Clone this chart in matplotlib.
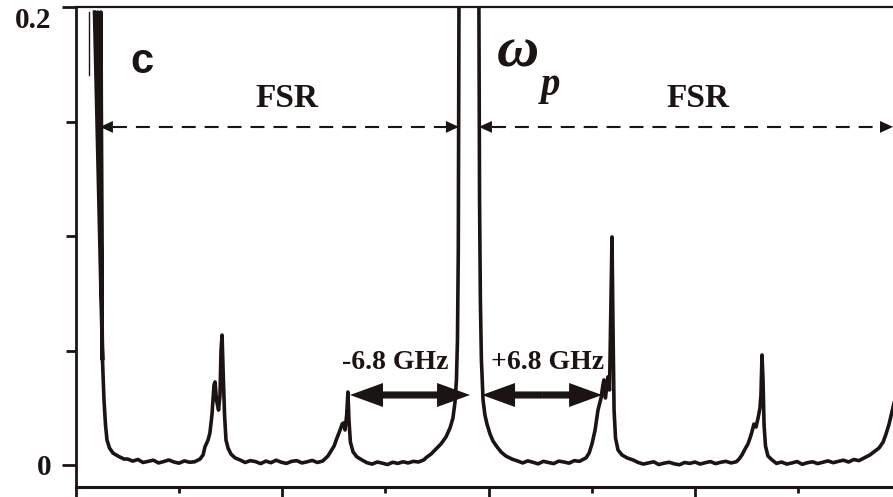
import matplotlib
matplotlib.use('Agg')
from matplotlib import pyplot as plt
from matplotlib.ticker import FixedLocator

# spectrum (x in arbitrary units, 100 per major tick)
freq = [8.97, 12.84, 10.57, 12.60, 12.12, 12.36, 12.84, 13.57, 14.30, 15.03, 16.24,
        17.93, 20.36, 23.27,
        25.0, 27.5, 30.0, 32.5, 35.0, 37.5, 40.0, 42.5, 45.0, 47.5, 50.0, 52.5, 55.0, 57.5,
        60.1, 61.6, 62.5, 64.0, 64.9, 65.9, 66.9, 67.4, 68.1, 69.1, 69.8, 70.3, 70.8, 71.3,
        72.0, 72.7, 73.7, 75.1, 77.1, 79.5,
        82.0, 84.5, 87.0, 89.5, 92.0, 94.5, 97.0, 99.5, 102.0, 104.5, 107.0, 109.5, 112.0,
        114.5, 117.0, 119.5,
        122.1, 123.6, 125.1, 126.5, 128.0, 129.0, 129.7, 130.4, 131.2, 131.8, 132.3, 133.0,
        134.3, 136.2, 138.6,
        141.0, 143.5, 146.0, 148.5, 151.0, 153.5, 156.0, 158.5, 161.0, 163.5, 166.0, 168.5,
        170.1, 172.1, 174.5, 176.9, 179.3, 181.3, 182.7, 183.7, 184.4, 184.9, 185.3, 185.6,
        185.9, 195.1,
        195.3, 195.6, 196.0, 196.5, 197.3, 198.2, 199.2, 200.7, 202.1, 204.1, 206.0, 208.4,
        211.3, 214.2,
        216.5, 219.0, 221.5, 224.0, 226.5, 229.0, 231.5, 234.0, 236.5, 239.0, 241.5, 244.0,
        247.2, 248.7, 250.1, 251.6, 253.0, 254.5, 255.4, 255.9, 256.6, 257.4, 257.8, 258.6,
        259.3, 259.8, 260.3, 260.8, 261.5, 262.7, 264.6, 267.1, 270.0,
        272.5, 275.0, 277.5, 280.0, 282.5, 285.0, 287.5, 290.0, 292.5, 295.0, 297.5, 300.0,
        302.5, 305.0, 307.5, 310.0, 312.5, 315.0, 317.5, 320.0,
        321.4, 322.8, 324.3, 325.7, 327.2, 328.6, 329.6, 330.6, 331.5, 332.0, 332.5, 333.0,
        333.5, 334.2, 335.4, 337.4,
        339.5, 342.0, 344.5, 347.0, 349.5, 352.0, 354.5, 357.0, 359.5, 362.0, 364.5, 367.0,
        369.5, 372.0, 374.5, 377.0, 379.5,
        382.9, 384.8, 387.3, 389.2, 391.2, 392.6, 394.1, 395.5, 397.4]
signal = [0.198, 0.0459, 0.198, 0.0721, 0.198, 0.094, 0.0459, 0.0284, 0.0175, 0.0109,
          0.0074, 0.0052, 0.0039, 0.0026,
          0.0026, 0.0017, 0.0024, 0.0011, 0.0016, 0.0021, 0.0009, 0.0015, 0.0022, 0.0013,
          0.0008, 0.0018, 0.0012, 0.0014,
          0.0026, 0.0044, 0.0079, 0.0109, 0.0140, 0.0219, 0.0350, 0.0363, 0.0284, 0.0240,
          0.0306, 0.0503, 0.0568, 0.0415, 0.0219, 0.0109, 0.0074, 0.0048, 0.0031, 0.0022,
          0.0011, 0.0019, 0.0015, 0.0006, 0.0017, 0.0010, 0.0021, 0.0012, 0.0007, 0.0016,
          0.0019, 0.0009, 0.0014, 0.0020, 0.0011, 0.0017,
          0.0039, 0.0061, 0.0083, 0.0118, 0.0153, 0.0179, 0.0184, 0.0153, 0.0219, 0.0319,
          0.0197, 0.0100, 0.0057, 0.0035, 0.0022,
          0.0010, 0.0004, 0.0013, 0.0008, 0.0002, 0.0012, 0.0007, 0.0014, 0.0009, 0.0016,
          0.0013, 0.0022,
          0.0035, 0.0048, 0.0070, 0.0092, 0.0122, 0.0162, 0.0205, 0.0275, 0.0372, 0.0546,
          0.0940, 0.198, 0.25, 0.25,
          0.198, 0.1158, 0.0721, 0.0459, 0.0284, 0.0219, 0.0179, 0.0135, 0.0105, 0.0079,
          0.0057, 0.0039, 0.0026, 0.0017,
          0.0009, 0.0018, 0.0012, 0.0005, 0.0016, 0.0011, 0.0006, 0.0017, 0.0013, 0.0008,
          0.0019, 0.0016,
          0.0031, 0.0052, 0.0092, 0.0153, 0.0240, 0.0293, 0.0350, 0.0372, 0.0293, 0.0350,
          0.0385, 0.0328, 0.0721, 0.0997, 0.0590, 0.0240, 0.0118, 0.0066, 0.0044, 0.0031,
          0.0022,
          0.0011, 0.0004, 0.0009, 0.0014, 0.0002, 0.0008, 0.0012, 0.0005, 0.0001, 0.0011,
          0.0007, 0.0013, 0.0004, 0.0010, 0.0015, 0.0006, 0.0012, 0.0016, 0.0009, 0.0014,
          0.0026, 0.0044, 0.0070, 0.0092, 0.0131, 0.0179, 0.0166, 0.0205, 0.0249, 0.0306,
          0.0481, 0.0372, 0.0175, 0.0083, 0.0039, 0.0022,
          0.0007, 0.0013, 0.0004, 0.0009, 0.0015, 0.0003, 0.0010, 0.0014, 0.0006, 0.0012,
          0.0018, 0.0010, 0.0016, 0.0021, 0.0013, 0.0024, 0.0019,
          0.0035, 0.0044, 0.0061, 0.0074, 0.0100, 0.0135, 0.0179, 0.0232, 0.0306]

# short thin trace at the far left
stray_x = [6.3, 6.3]
stray_y = [0.1705, 0.198]

# annotation positions
fsr_y = 0.1478
fsr_left = (11.6, 185.6)
fsr_right = (195.3, 396.0)
shift_y = 0.0306
shift_left = (132.8, 191.0)
shift_right = (196.8, 255.0)

ink = '#1c1412'
serif = 'Liberation Serif'

fig = plt.figure(figsize=(8.93, 4.97), dpi=100, facecolor='white')
ax = fig.add_axes([76 / 893, 10 / 497, 1 - 76 / 893, 479.5 / 497])

ax.plot(freq, signal, color=ink, lw=2.6, solid_joinstyle='round')
ax.plot(stray_x, stray_y, color=ink, lw=1.0)

ax.set_xlim(0, 396.0)
ax.set_ylim(-0.00962, 0.2)

# spines and ticks
ax.spines['right'].set_visible(False)
ax.spines['top'].set_linewidth(1.6)
ax.spines['left'].set_linewidth(2.0)
ax.spines['bottom'].set_linewidth(2.2)
for s in ax.spines.values():
    s.set_color(ink)

ax.xaxis.set_major_locator(FixedLocator([0, 100, 200, 300]))
ax.xaxis.set_minor_locator(FixedLocator([50, 150, 250, 350]))
ax.yaxis.set_major_locator(FixedLocator([0, 0.2]))
ax.yaxis.set_minor_locator(FixedLocator([0.05, 0.1, 0.15]))
ax.tick_params(axis='x', which='major', direction='out', length=8, width=2, color=ink,
               labelbottom=False)
ax.tick_params(axis='x', which='minor', direction='out', length=4.5, width=2, color=ink)
ax.tick_params(axis='y', which='major', direction='out', length=10, width=2, color=ink,
               pad=8)
ax.tick_params(axis='y', which='minor', direction='out', length=7, width=2, color=ink)
ax.set_yticklabels(['0', '0.2'], fontfamily=serif, fontweight='bold', fontsize=21, color=ink)
ax.get_yticklabels()[1].set_va('top')

# dashed FSR arrows
head_len = 6.3
head_w = 0.0052
for a, b in [fsr_left, fsr_right]:
    ax.plot([a + head_len, b - head_len], [fsr_y, fsr_y], color=ink, lw=1.5,
            linestyle=(0, (6.7, 4.3)), clip_on=False)
    ax.arrow(a + head_len, fsr_y, -head_len, 0, width=0, head_width=head_w,
             head_length=head_len, length_includes_head=True, color=ink, lw=0,
             clip_on=False)
    ax.arrow(b - head_len, fsr_y, head_len, 0, width=0, head_width=head_w,
             head_length=head_len, length_includes_head=True, color=ink, lw=0,
             clip_on=False)

# solid +/- 6.8 GHz arrows
for a, b in [shift_left, shift_right]:
    mid = (a + b) / 2
    for end in (a, b):
        ax.arrow(mid, shift_y, end - mid, 0, width=0.0031, head_width=0.0105,
                 head_length=16.0, length_includes_head=True, color=ink, lw=0)

# labels
ax.text(32.0, 0.1762, 'c', fontfamily='Liberation Sans', fontweight='bold', fontsize=30,
        ha='center', va='center', color=ink)
ax.text(102.3, 0.160, 'FSR', fontfamily=serif, fontweight='bold', fontsize=24,
        ha='center', va='center', color=ink)
ax.text(301.5, 0.160, 'FSR', fontfamily=serif, fontweight='bold', fontsize=24,
        ha='center', va='center', color=ink)
ax.text(204.1, 0.1805, 'ω', fontfamily=serif, fontweight='bold', style='italic',
        fontsize=42, ha='left', va='center', color=ink)
ax.text(225.5, 0.166, 'p', fontfamily=serif, fontweight='bold', style='italic',
        fontsize=28, ha='left', va='center', color=ink)
ax.text(154.6, 0.0446, '-6.8 GHz', fontfamily=serif, fontweight='bold', fontsize=20,
        ha='center', va='center', color=ink)
ax.text(228.8, 0.0446, '+6.8 GHz', fontfamily=serif, fontweight='bold', fontsize=20,
        ha='center', va='center', color=ink)

fig.savefig('out.png', dpi=100, facecolor='white')
